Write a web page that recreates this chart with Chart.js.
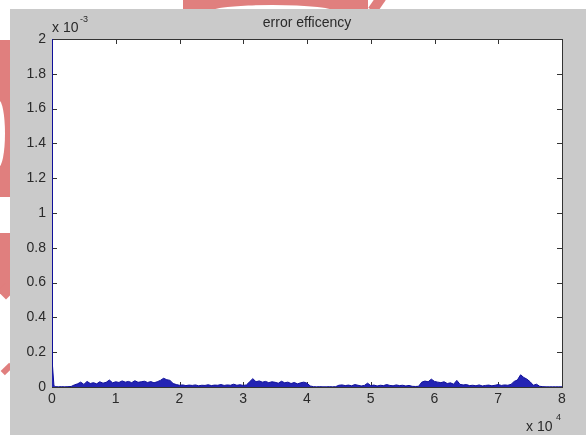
<!DOCTYPE html>
<html>
<head>
<meta charset="utf-8">
<script src="https://cdn.jsdelivr.net/npm/chart.js@4"></script>
<style>
  body { margin: 0; background: #fff; width: 586px; height: 435px; overflow: hidden; position: relative; }
  .wm { position: absolute; background: #e07f7e; }
  #panel { position: absolute; left: 10px; top: 9px; width: 576px; height: 426px; background: #cacaca; }
</style>
</head>
<body>
<!-- watermark bits peeking out round the figure -->
<div class="wm" style="left:183px;top:0;width:185px;height:9px;"></div>
<div class="wm" style="left:209px;top:5px;width:127px;height:14px;border-radius:50%;background:#fff;"></div>
<div class="wm" style="left:372px;top:-4px;width:10px;height:16px;transform:rotate(35deg);"></div>
<div class="wm" style="left:0;top:40px;width:10px;height:157px;"></div>
<div class="wm" style="left:-8px;top:100px;width:13px;height:67px;border-radius:50%;background:#fff;"></div>
<div class="wm" style="left:0;top:233px;width:10px;height:60px;"></div>
<div class="wm" style="left:0;top:285px;width:12px;height:12px;transform:rotate(45deg);"></div>
<div class="wm" style="left:1px;top:366px;width:12px;height:6px;transform:rotate(-45deg);"></div>

<div id="panel"><canvas id="errChart" width="576" height="426"></canvas></div>

<script>
// first few samples (start-up transient)
const headSamples = [0, 80, 300];
const headErr = [2.1, 0.12, 0.01];

// after that one reading every 500 samples, from 500 up to 80000 (values in x10^-3)
const sampleStep = 500;
const errorLevels = [
  0.002, 0.001, 0.002, 0.001, 0.002, 0.003, 0.012, 0.018, 0.028, 0.015,
  0.032, 0.020, 0.025, 0.018, 0.030, 0.022, 0.027, 0.040, 0.024, 0.030,
  0.026, 0.035, 0.028, 0.032, 0.025, 0.036, 0.027, 0.030, 0.033, 0.026,
  0.031, 0.024, 0.030, 0.038, 0.050, 0.042, 0.038, 0.020, 0.014, 0.010,
  0.012, 0.008, 0.011, 0.009, 0.012, 0.007, 0.010, 0.009, 0.013, 0.008,
  0.011, 0.010, 0.014, 0.009, 0.012, 0.010, 0.016, 0.010, 0.013, 0.009,
  0.012, 0.030, 0.048, 0.030, 0.035, 0.028, 0.032, 0.025, 0.030, 0.027,
  0.022, 0.033, 0.024, 0.028, 0.020, 0.026, 0.018, 0.024, 0.028, 0.022,
  0.006, 0.002, 0.001, 0.002, 0.001, 0.001, 0.002, 0.001, 0.002, 0.010,
  0.012, 0.008, 0.011, 0.007, 0.014, 0.010, 0.006, 0.009, 0.022, 0.008,
  0.011, 0.006, 0.010, 0.008, 0.014, 0.009, 0.007, 0.012, 0.008, 0.010,
  0.006, 0.009, 0.004, 0.003, 0.004, 0.028, 0.034, 0.030, 0.045, 0.032,
  0.028, 0.025, 0.030, 0.020, 0.024, 0.016, 0.038, 0.015, 0.012, 0.014,
  0.008, 0.010, 0.007, 0.012, 0.006, 0.009, 0.011, 0.007, 0.010, 0.014,
  0.009, 0.012, 0.010, 0.015, 0.032, 0.040, 0.070, 0.055, 0.045, 0.030,
  0.010, 0.016, 0.004, 0.002, 0.001, 0.001, 0.001, 0.001, 0.001, 0.001
];

const xTicks = [0, 10000, 20000, 30000, 40000, 50000, 60000, 70000, 80000];
const yTicks = [0, 0.2, 0.4, 0.6, 0.8, 1, 1.2, 1.4, 1.6, 1.8, 2];

const chartTitle = 'error efficency';
const yExponent = '-3';
const xExponent = '4';

var points = headSamples.map((s, i) => ({ x: s, y: headErr[i] }));
errorLevels.forEach((v, i) => points.push({ x: sampleStep * (i + 1), y: v }));

const fontFam = '"Liberation Sans", Arial, sans-serif';
const labelColor = '#2a2a2a';

// matlab style box, inward tick marks and the text bits
const matlabAxes = {
  id: 'matlabAxes',
  beforeDatasetsDraw(chart) {
    const ctx = chart.ctx;
    const a = chart.chartArea;
    const xs = chart.scales.x, ys = chart.scales.y;
    ctx.save();
    ctx.fillStyle = '#fff';
    ctx.fillRect(a.left, a.top, a.right - a.left, a.bottom - a.top);
    ctx.strokeStyle = '#333';
    ctx.lineWidth = 1;
    ctx.strokeRect(a.left + 0.5, a.top + 0.5, a.right - a.left, a.bottom - a.top);
    ctx.beginPath();
    xTicks.forEach(t => {
      var px = Math.round(xs.getPixelForValue(t)) + 0.5;
      ctx.moveTo(px, a.bottom); ctx.lineTo(px, a.bottom - 5);
      ctx.moveTo(px, a.top); ctx.lineTo(px, a.top + 5);
    });
    yTicks.forEach(t => {
      var py = Math.round(ys.getPixelForValue(t)) + 0.5;
      ctx.moveTo(a.left, py); ctx.lineTo(a.left + 5, py);
      ctx.moveTo(a.right, py); ctx.lineTo(a.right - 5, py);
    });
    ctx.stroke();
    ctx.restore();
  },
  afterDraw(chart) {
    const ctx = chart.ctx;
    const a = chart.chartArea;
    ctx.save();
    ctx.fillStyle = labelColor;
    ctx.textBaseline = 'alphabetic';
    // title
    ctx.font = '14px ' + fontFam;
    ctx.textAlign = 'center';
    ctx.fillText(chartTitle, (a.left + a.right) / 2, a.top - 12);
    // y multiplier
    ctx.textAlign = 'left';
    ctx.font = '14px ' + fontFam;
    ctx.fillText('x 10', a.left, a.top - 7);
    ctx.font = '9px ' + fontFam;
    ctx.fillText(yExponent, a.left + 28, a.top - 17);
    // x multiplier
    ctx.font = '14px ' + fontFam;
    ctx.fillText('x 10', a.right - 36, a.bottom + 44);
    ctx.font = '9px ' + fontFam;
    ctx.fillText(xExponent, a.right - 6, a.bottom + 33);
    ctx.restore();
  }
};

new Chart(document.getElementById('errChart'), {
  type: 'line',
  data: {
    datasets: [{
      label: 'error',
      data: points,
      borderColor: '#10109a',
      backgroundColor: '#2424b4',
      borderWidth: 1,
      fill: 'origin',
      pointRadius: 0,
      tension: 0
    }]
  },
  options: {
    responsive: false,
    animation: false,
    layout: { padding: { top: 30, right: 24, left: 0, bottom: 0 } },
    plugins: { legend: { display: false }, tooltip: { enabled: false } },
    scales: {
      x: {
        type: 'linear',
        min: 0,
        max: 80000,
        afterFit: (s) => { s.height = 48; },
        afterBuildTicks: (s) => { s.ticks = xTicks.map(v => ({ value: v })); },
        grid: { display: false, drawTicks: false },
        border: { display: false },
        ticks: {
          padding: 4,
          color: labelColor,
          font: { family: fontFam, size: 14 },
          maxRotation: 0,
          callback: (v) => String(v / 10000)
        }
      },
      y: {
        min: 0,
        max: 2,
        afterFit: (s) => { s.width = 42; },
        afterBuildTicks: (s) => { s.ticks = yTicks.map(v => ({ value: v })); },
        grid: { display: false, drawTicks: false },
        border: { display: false },
        ticks: {
          padding: 6,
          color: labelColor,
          font: { family: fontFam, size: 14 },
          callback: (v) => String(Math.round(v * 10) / 10)
        }
      }
    }
  },
  plugins: [matlabAxes]
});
</script>
</body>
</html>
